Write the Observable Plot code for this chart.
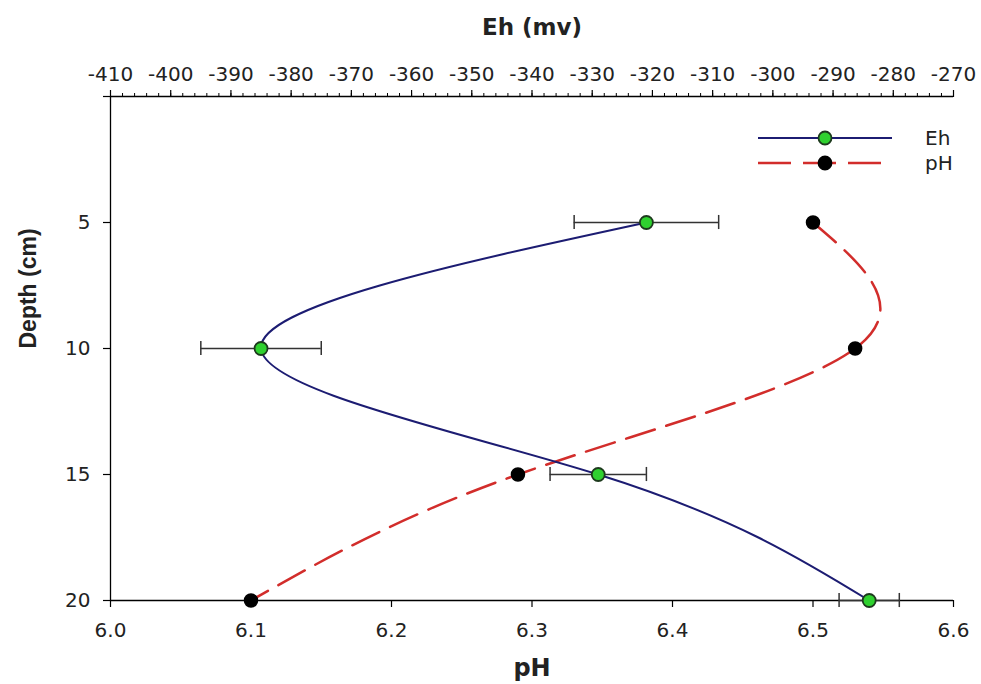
<!DOCTYPE html>
<html><head><meta charset="utf-8">
<script src="https://cdn.jsdelivr.net/npm/d3@7"></script>
<script src="https://cdn.jsdelivr.net/npm/@observablehq/plot@0.6"></script>
<style>
body{margin:0;background:#fff;}
#wrap{position:relative;width:981px;height:684px;font-family:"DejaVu Sans",Arial,sans-serif;}
#legend{position:absolute;left:0;top:0;pointer-events:none;}
</style></head><body><div id="wrap"></div>
<script>
// ---- data ----
const depths = [5, 10, 15, 20];
const ehValues = [-321, -385, -329, -284];
const ehErrors = [12, 10, 8, 5];
const phValues = [6.50, 6.53, 6.29, 6.10];
const ehTicks = d3.range(-410, -269, 10);
const ehMinorTicks = d3.range(-410, -269, 2);
const phTicks = [6.0, 6.1, 6.2, 6.3, 6.4, 6.5, 6.6];
const depthTicks = [0, 5, 10, 15, 20];
const seriesNames = ["Eh", "pH"];

// ---- style ----
const blue = "#1c1c72", red = "#d22d2b", green = "#2fd12f", outline = "#1d3a1d";
const dash = "30,12";
const wide = "'DejaVu Sans', Arial, sans-serif";
const narrow = "Arial, 'Liberation Sans', sans-serif";

// Eh axis shares the horizontal position with the pH axis
const ehToPh = d3.scaleLinear().domain([-410, -270]).range([6.0, 6.6]);

const ehData = depths.map((d, i) => ({
  depth: d,
  x: ehToPh(ehValues[i]),
  xlo: ehToPh(ehValues[i] - ehErrors[i]),
  xhi: ehToPh(ehValues[i] + ehErrors[i])
}));
const phData = depths.map((d, i) => ({depth: d, ph: phValues[i]}));
const cap = 0.28;

const W = 981, H = 684, mL = 110, mR = 28, mT = 96, mB = 84;

const chart = Plot.plot({
  width: W, height: H,
  marginLeft: mL, marginRight: mR, marginTop: mT, marginBottom: mB,
  style: {fontFamily: wide, fontSize: "20px", color: "#000", background: "#fff"},
  x: {domain: [6.0, 6.6]},
  y: {domain: [0, 20], reverse: true},
  marks: [
    // axis lines
    Plot.ruleY([0, 20], {stroke: "#000", strokeWidth: 1.3}),
    Plot.ruleX([6.0], {stroke: "#000", strokeWidth: 1.3}),
    // bottom pH axis
    Plot.axisX(phTicks, {anchor: "bottom", tickSize: 7, tickPadding: 15, tickFormat: d3.format(".1f"),
      fontSize: 20, fontFamily: wide, label: null, stroke: "#000", strokeWidth: 1.2, fill: "#222"}),
    // top Eh axis (major + minor)
    Plot.axisX(ehTicks.map(ehToPh), {anchor: "top", tickSize: 7, tickPadding: 9,
      tickFormat: v => String(Math.round(ehToPh.invert(v))), fontSize: 20, fontFamily: wide, label: null,
      stroke: "#000", strokeWidth: 1.2, fill: "#222"}),
    Plot.axisX(ehMinorTicks.map(ehToPh), {anchor: "top", tickSize: 4, tickFormat: () => "",
      label: null, stroke: "#000", strokeWidth: 1}),
    // left depth axis
    Plot.axisY(depthTicks, {anchor: "left", tickSize: 7, tickPadding: 13,
      tickFormat: d => d === 0 ? "" : String(d), fontSize: 20, fontFamily: wide, label: null,
      stroke: "#000", strokeWidth: 1.2, fill: "#222"}),
    // axis titles
    Plot.text(["Eh (mv)"], {frameAnchor: "top", dy: -62, lineAnchor: "bottom", fontWeight: "bold", fontSize: 23, fontFamily: wide, fill: "#222"}),
    Plot.text(["pH"], {frameAnchor: "bottom", dy: 68, lineAnchor: "middle", fontWeight: "bold", fontSize: 24, fontFamily: wide, fill: "#222"}),
    Plot.text(["Depth (cm)"], {frameAnchor: "left", dx: -82, rotate: -90, lineAnchor: "middle", fontWeight: "bold", fontSize: 23, fontFamily: narrow, fill: "#222"}),
    // error bars
    Plot.ruleY(ehData, {y: "depth", x1: "xlo", x2: "xhi", stroke: "#333", strokeWidth: 1.5}),
    Plot.ruleX(ehData, {x: "xlo", y1: d => d.depth - cap, y2: d => d.depth + cap, stroke: "#333", strokeWidth: 1.5}),
    Plot.ruleX(ehData, {x: "xhi", y1: d => d.depth - cap, y2: d => d.depth + cap, stroke: "#333", strokeWidth: 1.5}),
    // curves
    Plot.line(phData, {x: "ph", y: "depth", curve: "natural", stroke: red, strokeWidth: 2.5, strokeDasharray: dash}),
    Plot.line(ehData, {x: "x", y: "depth", curve: "natural", stroke: blue, strokeWidth: 2}),
    // points
    Plot.dot(phData, {x: "ph", y: "depth", r: 6.5, fill: "#000", stroke: "#000"}),
    Plot.dot(ehData, {x: "x", y: "depth", r: 6.5, fill: green, stroke: outline, strokeWidth: 1.8})
  ]
});
const wrap = document.getElementById("wrap");
wrap.appendChild(chart);

// ---- legend (inside plot area, top-right) ----
const leg = d3.select(wrap).append("svg").attr("id", "legend").attr("width", W).attr("height", H);
const legendItems = [
  {name: seriesNames[0], stroke: blue, width: 2, dasharray: null, x2: 892, fill: green, outline: outline},
  {name: seriesNames[1], stroke: red, width: 2.5, dasharray: "33,12", x2: 881, fill: "#000", outline: "#000"}
];
legendItems.forEach((it, i) => {
  const y = 138 + i * 25;
  leg.append("line").attr("x1", 758).attr("x2", it.x2).attr("y1", y).attr("y2", y)
    .attr("stroke", it.stroke).attr("stroke-width", it.width).attr("stroke-dasharray", it.dasharray);
  leg.append("circle").attr("cx", 825).attr("cy", y).attr("r", 6.5)
    .attr("fill", it.fill).attr("stroke", it.outline).attr("stroke-width", 1.8);
  leg.append("text").attr("x", 925).attr("y", y).attr("dy", "0.35em")
    .attr("font-family", wide).attr("font-size", 20).attr("fill", "#222")
    .text(it.name);
});
</script></body></html>
